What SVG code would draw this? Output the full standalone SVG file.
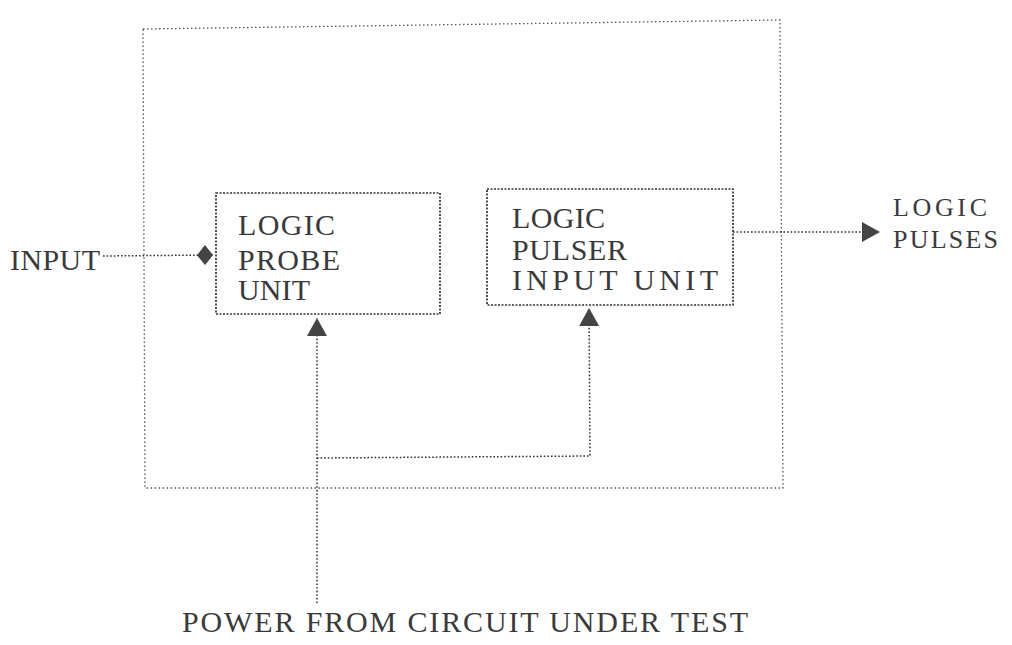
<svg xmlns="http://www.w3.org/2000/svg" width="1012" height="645" viewBox="0 0 1012 645">
  <style>
    .bg { fill: #ffffff; }
    .box { fill: none; stroke: #333333; stroke-width: 1.7; stroke-dasharray: 2 1.5; }
    .outer { fill: none; stroke: #555555; stroke-width: 1.3; stroke-dasharray: 1.5 2.5; }
    .wire { fill: none; stroke: #333333; stroke-width: 1.5; stroke-dasharray: 1.6 2; }
    .lbl { font-family: "Liberation Serif", "Times New Roman", serif; font-size: 30px; fill: #3a3a3a; }
    .lbl2 { font-family: "Liberation Serif", "Times New Roman", serif; font-size: 26px; fill: #3a3a3a; }
  </style>
  <defs>
    <marker id="tri" viewBox="0 0 18 20" refX="18" refY="10" markerWidth="18" markerHeight="20" markerUnits="userSpaceOnUse" orient="auto">
      <path d="M0,0 L18,10 L0,20 Z" fill="#444444"/>
    </marker>
    <marker id="dia" viewBox="0 0 16 20" refX="16" refY="10" markerWidth="16" markerHeight="20" markerUnits="userSpaceOnUse" orient="auto">
      <path d="M0,10 L8,0 L16,10 L8,20 Z" fill="#444444"/>
    </marker>
  </defs>
  <rect class="bg" x="0" y="0" width="1012" height="645"/>

  <g id="boundary">
    <path class="outer" d="M143,29 L780,20 L783,488 L145,488 Z"/>
  </g>

  <g id="connectors">
    <path class="wire" d="M103,256 L213,255" marker-end="url(#dia)"/>
    <path class="wire" d="M733,232 L880,232" marker-end="url(#tri)"/>
    <path class="wire" d="M317,603 L317,318" marker-end="url(#tri)"/>
    <path class="wire" d="M317,458 L590,456 L589,308" marker-end="url(#tri)"/>
  </g>

  <g id="logic-probe-unit">
    <rect class="box" x="216" y="193" width="224" height="121"/>
    <text class="lbl" x="238" y="235" textLength="97">LOGIC</text>
    <text class="lbl" x="238" y="270" textLength="102">PROBE</text>
    <text class="lbl" x="238" y="300" textLength="72">UNIT</text>
  </g>

  <g id="logic-pulser-input-unit">
    <rect class="box" x="487" y="189" width="246" height="116"/>
    <text class="lbl" x="512" y="228" textLength="93">LOGIC</text>
    <text class="lbl" x="512" y="260" textLength="115">PULSER</text>
    <text class="lbl" x="512" y="290" textLength="206">INPUT UNIT</text>
  </g>

  <g id="input-label">
    <text class="lbl" x="10" y="270" textLength="90">INPUT</text>
  </g>

  <g id="output-label">
    <text class="lbl2" x="893" y="216" textLength="94">LOGIC</text>
    <text class="lbl2" x="893" y="248" textLength="105">PULSES</text>
  </g>

  <g id="power-label">
    <text class="lbl" x="182" y="632" textLength="566">POWER FROM CIRCUIT UNDER TEST</text>
  </g>
</svg>
